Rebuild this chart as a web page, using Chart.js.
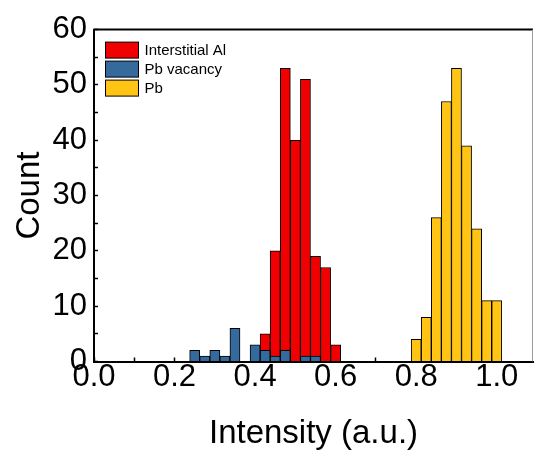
<!DOCTYPE html>
<html>
<head>
<meta charset="utf-8">
<script src="https://cdn.jsdelivr.net/npm/chart.js@4"></script>
<style>
  html, body { margin: 0; padding: 0; background: #fff; }
  #wrap { width: 534px; height: 457px; }
</style>
</head>
<body>
<div id="wrap"><canvas id="chart" width="534" height="457"></canvas></div>
<script>
// bin centres (bin width 0.025) and counts
const alBins = [0.425, 0.45, 0.475, 0.5, 0.525, 0.55, 0.575, 0.6];
const alCounts = [5, 20, 53, 40, 51, 19, 17, 3];

const vacBins = [0.25, 0.275, 0.3, 0.325, 0.35, 0.4, 0.425, 0.45, 0.475, 0.525, 0.55];
const vacCounts = [2, 1, 2, 1, 6, 3, 2, 1, 2, 1, 1];

const pbBins = [0.8, 0.825, 0.85, 0.875, 0.9, 0.925, 0.95, 0.975, 1.0];
const pbCounts = [4, 8, 26, 47, 53, 39, 24, 11, 11];

const seriesNames = ['Interstitial Al', 'Pb vacancy', 'Pb'];
const seriesColors = ['#f00000', '#356a9c', '#ffc414'];

const FONT = "'Liberation Sans', Arial, sans-serif";

function toPoints(xs, ys) {
    return xs.map((x, i) => ({ x: x, y: ys[i] }));
}

// legend drawn inside the plot, top-left, plus the top/right frame
const frameAndLegend = {
    id: 'frameAndLegend',
    afterDraw(chart) {
        const ctx = chart.ctx;
        const a = chart.chartArea;
        ctx.save();
        ctx.strokeStyle = '#000';
        ctx.lineWidth = 2;
        ctx.beginPath();
        ctx.moveTo(a.left, a.top);
        ctx.lineTo(a.right, a.top);
        ctx.stroke();
        ctx.strokeStyle = '#999';
        ctx.lineWidth = 1;
        ctx.beginPath();
        ctx.moveTo(a.right - 0.5, a.top);
        ctx.lineTo(a.right - 0.5, a.bottom);
        ctx.stroke();

        ctx.font = '15px ' + FONT;
        ctx.textBaseline = 'middle';
        ctx.textAlign = 'left';
        chart.data.datasets.forEach((ds, i) => {
            const x = a.left + 11.5;
            const y = a.top + 12.5 + i * 19;
            ctx.fillStyle = ds.backgroundColor;
            ctx.fillRect(x, y, 33, 16);
            ctx.strokeStyle = '#000';
            ctx.lineWidth = 1;
            ctx.strokeRect(x, y, 33, 16);
            ctx.fillStyle = '#000';
            ctx.fillText(ds.label, x + 39, y + 8.5);
        });
        ctx.restore();
    }
};

new Chart(document.getElementById('chart'), {
    type: 'bar',
    data: {
        datasets: [
            { label: seriesNames[0], data: toPoints(alBins, alCounts), backgroundColor: seriesColors[0], order: 1 },
            { label: seriesNames[1], data: toPoints(vacBins, vacCounts), backgroundColor: seriesColors[1], order: 0 },
            { label: seriesNames[2], data: toPoints(pbBins, pbCounts), backgroundColor: seriesColors[2], order: 2 }
        ]
    },
    options: {
        responsive: false,
        animation: false,
        grouped: false,
        barPercentage: 1,
        categoryPercentage: 1,
        borderColor: '#000',
        borderWidth: 1,
        layout: { padding: { top: 27, right: 1, left: 0, bottom: 0 } },
        plugins: {
            legend: { display: false },
            tooltip: { enabled: false }
        },
        scales: {
            x: {
                type: 'linear',
                min: 0,
                max: 1.09,
                offset: false,
                afterFit: s => { s.height = 95.5; },
                border: { color: '#000', width: 2 },
                grid: { drawOnChartArea: false, tickLength: -4, color: '#000', tickWidth: 1.5, offset: false },
                ticks: {
                    stepSize: 0.1,
                    includeBounds: false,
                    padding: 1,
                    color: '#000',
                    maxRotation: 0,
                    autoSkip: false,
                    font: { family: FONT, size: 31 },
                    callback: v => (Math.round(v * 10) % 2 === 0 ? v.toFixed(1) : '')
                },
                title: {
                    display: true,
                    text: 'Intensity (a.u.)',
                    color: '#000',
                    font: { family: FONT, size: 33 },
                    padding: { top: 0, bottom: 3 }
                }
            },
            y: {
                min: 0,
                max: 60,
                afterFit: s => { s.width = 94; },
                border: { color: '#000', width: 2 },
                grid: { drawOnChartArea: false, tickLength: -4, color: '#000', tickWidth: 1.5 },
                ticks: {
                    stepSize: 5,
                    padding: 11,
                    color: '#000',
                    autoSkip: false,
                    font: { family: FONT, size: 31 },
                    callback: v => (v % 10 === 0 ? v : '')
                },
                title: {
                    display: true,
                    text: 'Count',
                    color: '#000',
                    font: { family: FONT, size: 33 },
                    padding: { top: 10, bottom: 0 }
                }
            }
        }
    },
    plugins: [frameAndLegend]
});
</script>
</body>
</html>
